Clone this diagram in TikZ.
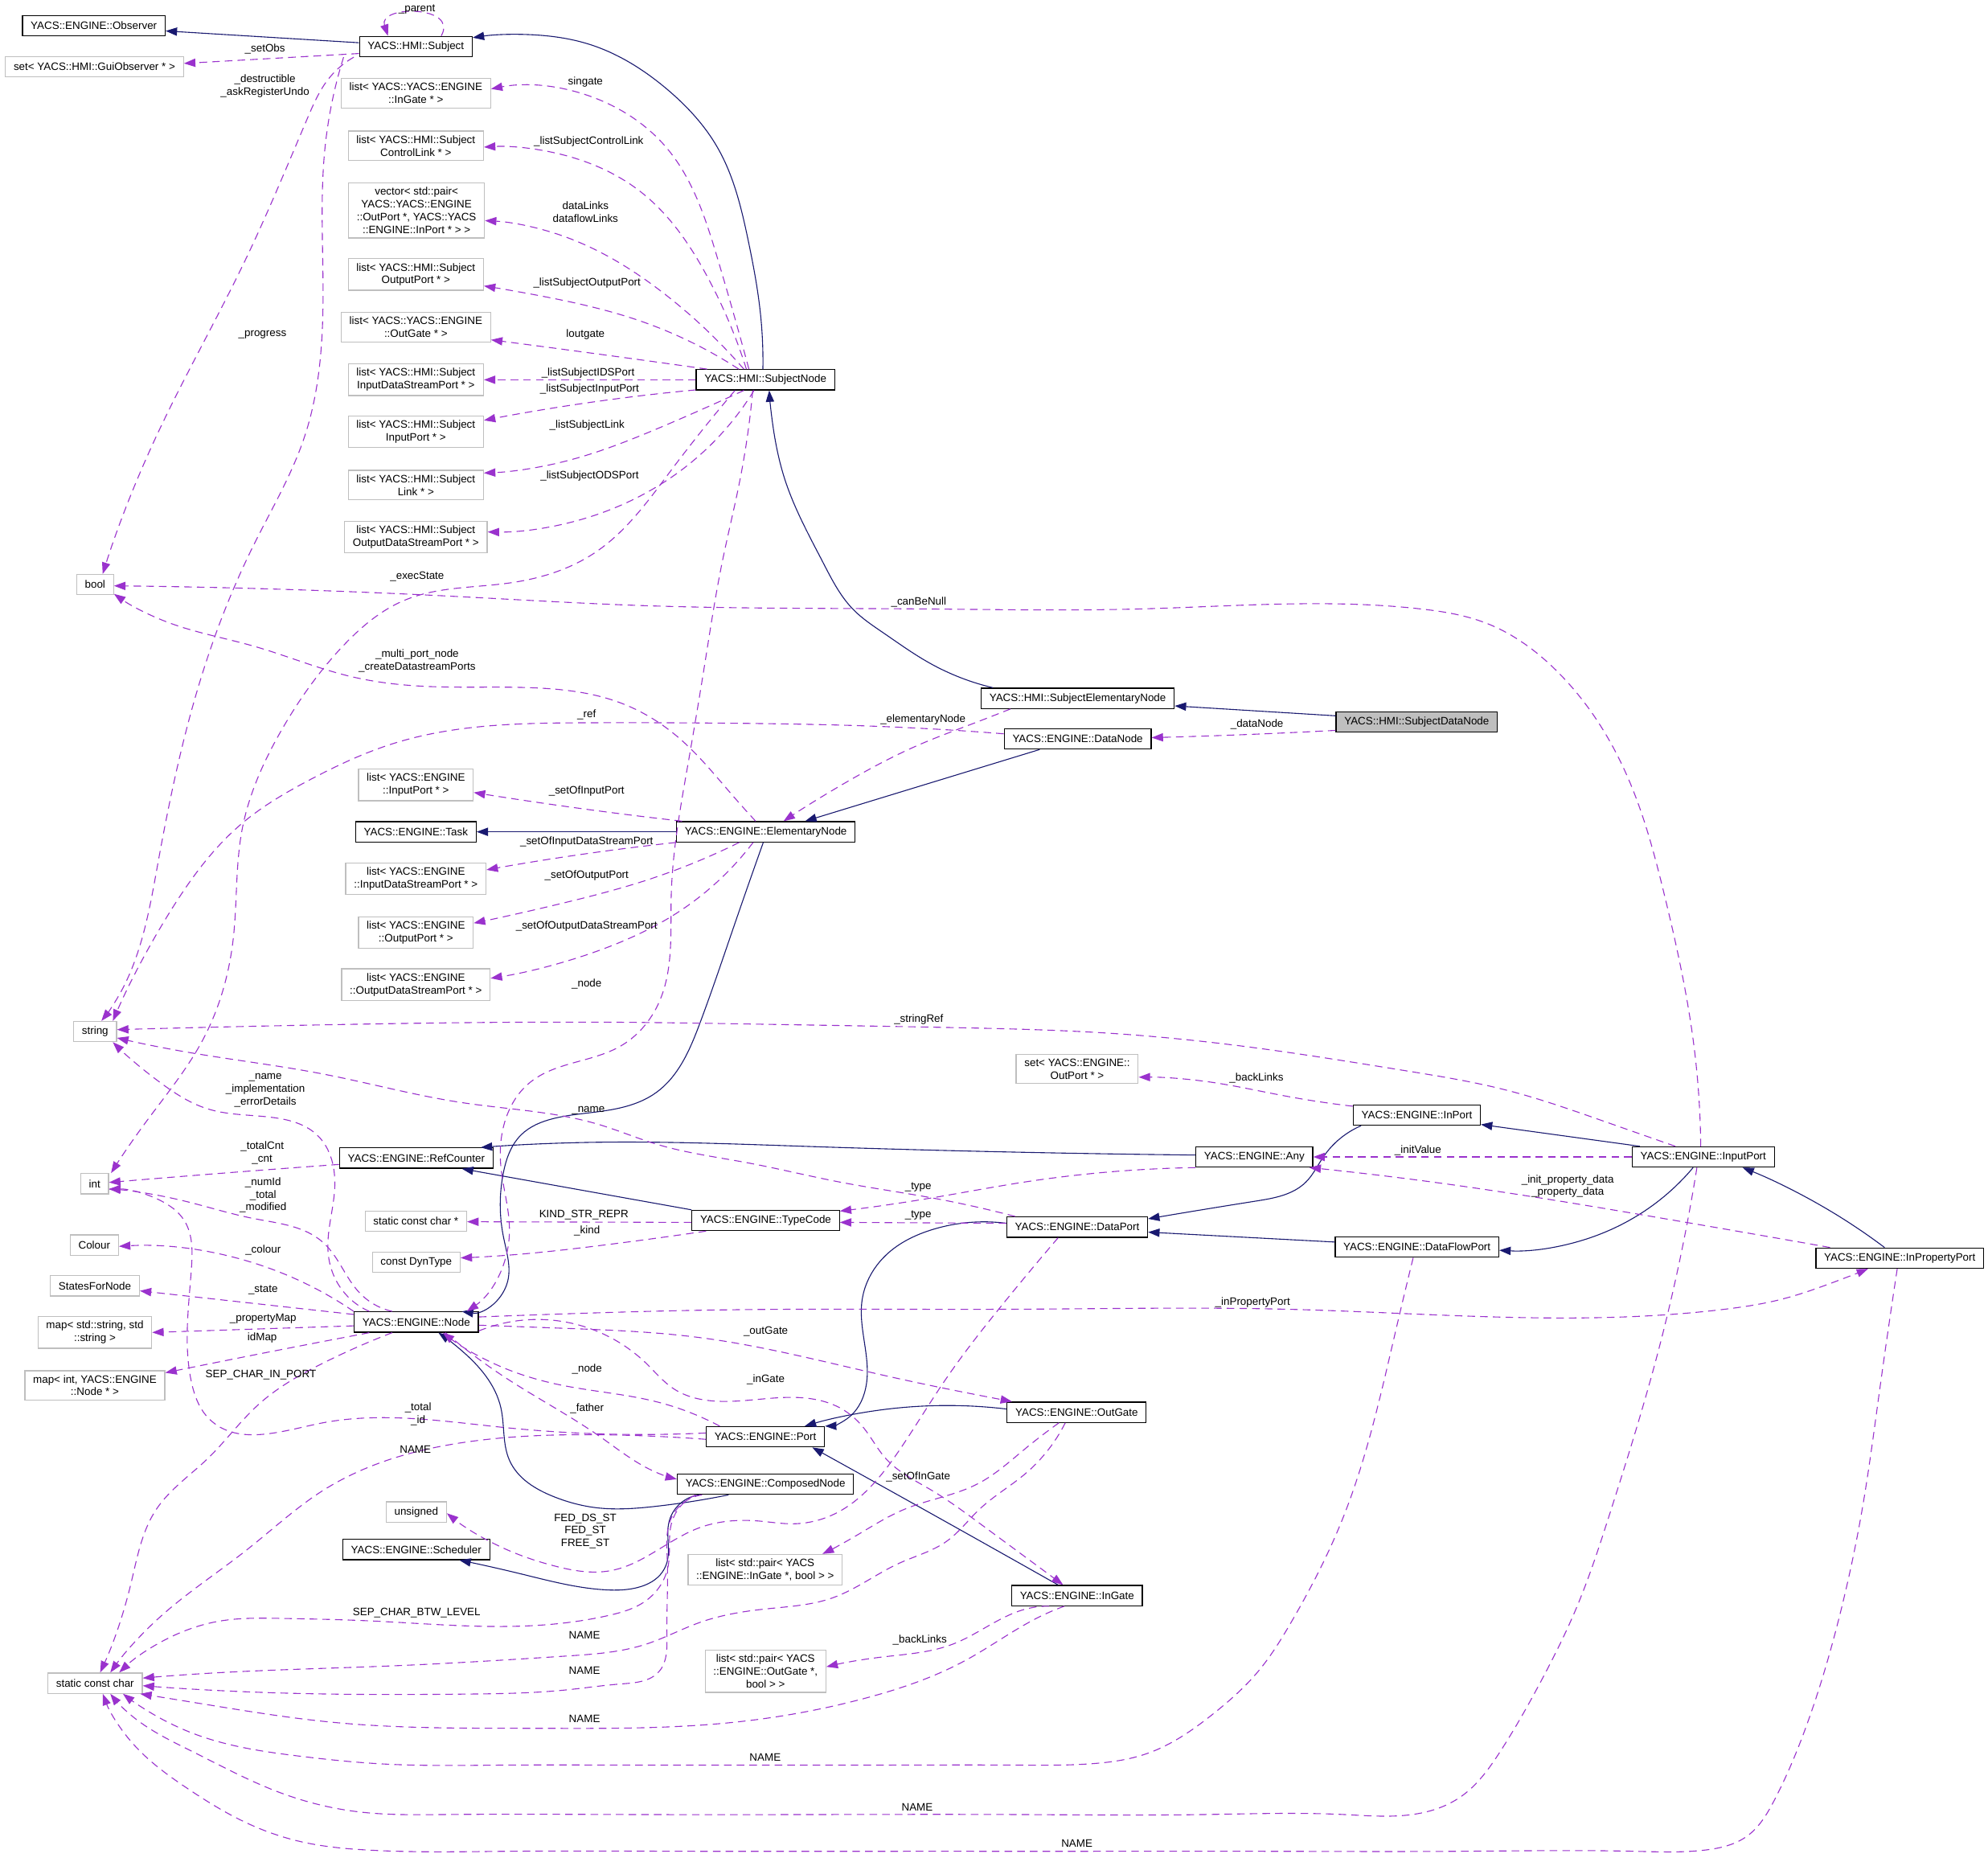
\documentclass[tikz,border=0pt]{standalone}
\usepackage{fontspec}
\setmainfont{Liberation Sans}
\usetikzlibrary{arrows.meta, hobby}

\definecolor{doxnavy}{HTML}{191970}
\definecolor{doxorchid}{HTML}{9A32CD}
\definecolor{doxgrey}{HTML}{BFBFBF}

\begin{document}
\begin{tikzpicture}[
    x=1pt, y=-1pt,
    font=\fontsize{8.5}{10}\selectfont,
    cls/.style={rectangle, draw=black, line width=0.8pt, fill=white, inner xsep=6.5pt, inner ysep=3.5pt, minimum height=16pt, align=center},
    ext/.style={cls, draw=doxgrey},
    cur/.style={cls, fill=doxgrey},
    inh/.style={draw=doxnavy, line width=0.7pt, -{Triangle[length=9pt,width=6.5pt]}},
    dep/.style={draw=doxorchid, line width=0.7pt, dash pattern=on 6pt off 4pt, -{Triangle[length=9pt,width=6.5pt]}},
    crv/.style={use Hobby shortcut},
    lbl/.style={inner sep=0pt, align=center}
]
    \fill[white] (0,0) rectangle (1568,1468);
    \useasboundingbox (0,0) rectangle (1568,1468);

    % HMI side
    \node[cls] (obs) at (74,20.4) {YACS::ENGINE::Observer};
    \node[ext] (guiobs) at (74.5,52.5) {set< YACS::HMI::GuiObserver * >};
    \node[cls] (subj) at (328,36.7) {YACS::HMI::Subject};
    \node[ext] (lIG) at (328,73.6) {list< YACS::YACS::ENGINE\\::InGate * >};
    \node[ext] (lCL) at (328,115) {list< YACS::HMI::Subject\\ControlLink * >};
    \node[ext] (vPair) at (328.5,166) {vector< std::pair<\\YACS::YACS::ENGINE\\::OutPort *, YACS::YACS\\::ENGINE::InPort * > >};
    \node[ext] (lOP) at (328,216.5) {list< YACS::HMI::Subject\\OutputPort * >};
    \node[ext] (lOG) at (328,258) {list< YACS::YACS::ENGINE\\::OutGate * >};
    \node[ext] (lIDS) at (328,299.5) {list< YACS::HMI::Subject\\InputDataStreamPort * >};
    \node[ext] (lIP) at (328,340.5) {list< YACS::HMI::Subject\\InputPort * >};
    \node[ext] (lLnk) at (328,382.5) {list< YACS::HMI::Subject\\Link * >};
    \node[ext] (lODS) at (328,423.5) {list< YACS::HMI::Subject\\OutputDataStreamPort * >};
    \node[cls] (sn) at (603.7,299.5) {YACS::HMI::SubjectNode};
    \node[cls] (sen) at (850,550.7) {YACS::HMI::SubjectElementaryNode};
    \node[cur] (sdn) at (1117.4,569.5) {YACS::HMI::SubjectDataNode};

    % engine side
    \node[cls] (dnode) at (850,582.7) {YACS::ENGINE::DataNode};
    \node[ext] (lEIP) at (328,619) {list< YACS::ENGINE\\::InputPort * >};
    \node[cls] (task) at (328,656) {YACS::ENGINE::Task};
    \node[cls] (enode) at (604,656) {YACS::ENGINE::ElementaryNode};
    \node[ext] (lEIDS) at (328,693) {list< YACS::ENGINE\\::InputDataStreamPort * >};
    \node[ext] (lEOP) at (328,735.5) {list< YACS::ENGINE\\::OutputPort * >};
    \node[ext] (lEODS) at (328,776.5) {list< YACS::ENGINE\\::OutputDataStreamPort * >};
    \node[ext] (setOP) at (849.6,843) {set< YACS::ENGINE::\\OutPort * >};
    \node[cls] (inport) at (1117.5,879.4) {YACS::ENGINE::InPort};
    \node[cls] (refc) at (328.3,913.3) {YACS::ENGINE::RefCounter};
    \node[cls] (any) at (989.3,912.4) {YACS::ENGINE::Any};
    \node[cls] (inputp) at (1343.4,912.4) {YACS::ENGINE::InputPort};
    \node[ext] (sccp) at (328,963) {static const char *};
    \node[cls] (typec) at (603.9,962.5) {YACS::ENGINE::TypeCode};
    \node[cls] (dport) at (849.6,967.7) {YACS::ENGINE::DataPort};
    \node[cls] (dfport) at (1117.6,983.5) {YACS::ENGINE::DataFlowPort};
    \node[cls] (inprop) at (1498.4,992.2) {YACS::ENGINE::InPropertyPort};
    \node[ext] (dyn) at (328.3,995.5) {const DynType};
    \node[cls] (node) at (328.3,1042.6) {YACS::ENGINE::Node};
    \node[cls] (outgate) at (849.2,1113.7) {YACS::ENGINE::OutGate};
    \node[cls] (port) at (603.7,1133.1) {YACS::ENGINE::Port};
    \node[cls] (cnode) at (603.7,1170.5) {YACS::ENGINE::ComposedNode};
    \node[ext] (unsig) at (328.3,1192.4) {unsigned};
    \node[cls] (sched) at (328.3,1222) {YACS::ENGINE::Scheduler};
    \node[ext] (lpIG) at (603.5,1238) {list< std::pair< YACS\\::ENGINE::InGate *, bool > >};
    \node[cls] (ingate) at (849.5,1258.3) {YACS::ENGINE::InGate};
    \node[ext] (lpOG) at (603.8,1318) {list< std::pair< YACS\\::ENGINE::OutGate *,\\bool > >};

    % plain types
    \node[ext] (bool) at (75,461) {bool};
    \node[ext] (str) at (75,813.5) {string};
    \node[ext] (int) at (74.6,933.5) {int};
    \node[ext] (colour) at (74.4,981.9) {Colour};
    \node[ext] (states) at (74.8,1014) {StatesForNode};
    \node[ext] (mapSS) at (74.8,1050.8) {map< std::string, std\\::string >};
    \node[ext] (mapIN) at (74.8,1092.6) {map< int, YACS::ENGINE\\::Node * >};
    \node[ext] (scc) at (75,1327.4) {static const char};

    % inheritance
    \draw[inh] ([yshift=3pt]subj.west) -- ([yshift=-4pt]obs.east);
    \draw[inh, crv] ([xshift=-2pt]sn.north) .. (599.8,247.5) .. (590,189) .. (566,116.5) .. (525.7,70) .. (465,35) .. (424.6,27.7) .. ([yshift=7pt]subj.east);
    \draw[inh, crv] ([xshift=-67pt]sen.north) .. (733,522.8) .. (696.6,499) .. (673,480.7) .. (649.3,443.9) .. (619.2,378.6) .. (609.5,334.9) .. ([xshift=3pt]sn.south);
    \draw[inh] ([yshift=5pt]sdn.west) -- ([yshift=-6pt]sen.east);
    \draw[inh] ([xshift=-30pt]dnode.south) -- ([xshift=31pt]enode.north);
    \draw[inh] (enode.west) -- (task.east);
    \draw[inh, crv] ([xshift=-2pt]enode.south) .. (578,733) .. (552,807) .. (517,862) .. (477,876) .. (437,882) .. (411,895) .. (397,925) .. (397,975) .. (400,1012) .. ([xshift=36pt]node.north);
    \draw[inh, crv] ([yshift=1.5pt]any.west) .. (636.8,904.1) .. (466,900.9) .. ([xshift=-10pt]refc.north east);
    \draw[inh] (typec.north west) -- ([xshift=36pt]refc.south);
    \draw[inh, crv] ([xshift=-44pt]inport.south) .. (1044,912) .. (1030,932.2) .. (990.6,947.2) .. ([yshift=6.5pt]dport.east);
    \draw[inh] ([yshift=4pt]dfport.west) -- ([yshift=-4pt]dport.east);
    \draw[inh] ([xshift=-50pt]inputp.north) -- ([yshift=1pt]inport.south east);
    \draw[inh, crv] ([xshift=-8pt]inputp.south) .. (1297.5,954.8) .. (1258,974.8) .. ([yshift=-2.5pt]dfport.east);
    \draw[inh, crv] ([xshift=-12pt]inprop.north) .. (1439,952.3) .. ([xshift=31pt]inputp.south);
    \draw[inh, crv] ([yshift=3pt]dport.west) .. (735,969.8) .. (698.7,989.9) .. (680,1025) .. (684,1085) .. (669.6,1117.7) .. (port.north east);
    \draw[inh, crv] ([yshift=2.5pt]outgate.west) .. (698.7,1111.4) .. ([xshift=31pt]port.north);
    \draw[inh, crv] ([xshift=-15pt]ingate.north) .. (777,1217.5) .. ([xshift=37pt]port.south);
    \draw[inh, crv] ([xshift=-29pt]cnode.south) .. (516.7,1188) .. (470,1189) .. (437,1180.4) .. (402,1152) .. (395,1110) .. (364,1065) .. ([xshift=17.5pt]node.south);
    \draw[inh, crv] ([xshift=-52pt]cnode.south) .. (527.6,1200.5) .. (525.3,1234.4) .. (483.6,1254) .. (410,1241) .. ([xshift=34pt]sched.south);

    % Subject members
    \draw[dep] ([yshift=-5.5pt]subj.west) -- ([yshift=2.5pt]guiobs.east);
    \draw[dep] ([xshift=20pt]subj.north) .. controls (362,4) and (298,4) .. ([xshift=-22pt]subj.north);
    \draw[dep, crv] ([xshift=-49pt]subj.south) .. (258.8,62.6) .. (242.6,93) .. (194,204) .. (121,349) .. ([xshift=6pt]bool.north);
    \draw[dep, crv] ([xshift=-57pt]subj.south) .. (256,120) .. (254.8,233) .. (240,345) .. (200,430) .. (160,530) .. (124.6,680.5) .. (93.4,785.7) .. ([xshift=5pt]str.north);

    % SubjectNode members
    \draw[dep, crv] ([xshift=-13pt]sn.north) .. (566,204) .. (525.7,116.5) .. (485,84.4) .. ([yshift=3.5pt]lIG.east);
    \draw[dep, crv] ([xshift=-15pt]sn.north) .. (558,218.4) .. (505.5,151.4) .. (444.8,122.3) .. ([yshift=-1pt]lCL.east);
    \draw[dep, crv] ([xshift=-17pt]sn.north) .. (525.7,233) .. (444.8,186.4) .. ([yshift=-8pt]vPair.east);
    \draw[dep, crv] ([xshift=-21pt]sn.north) .. (505.5,253.3) .. (424.6,233) .. ([yshift=-9pt]lOP.east);
    \draw[dep, crv] ([xshift=-46pt]sn.north) .. (485,281) .. ([yshift=-10pt]lOG.east);
    \draw[dep] (sn.west) -- (lIDS.east);
    \draw[dep, crv] ([yshift=-8pt]sn.west) .. (465,317.4) .. ([yshift=9pt]lIP.east);
    \draw[dep, crv] ([xshift=-17pt]sn.south) .. (525.7,335) .. (444.8,364) .. ([yshift=9.5pt]lLnk.east);
    \draw[dep, crv] ([xshift=-9pt]sn.south) .. (546,364) .. (465,407.7) .. ([yshift=4pt]lODS.east);
    \draw[dep, crv] ([xshift=-24pt]sn.south) .. (530,370) .. (469,436) .. (400,460) .. (320,473) .. (270,510) .. (222.5,575) .. (191,654) .. (184,740) .. (160,820) .. (115,885) .. ([xshift=13pt]int.north);
    \draw[dep, crv] ([xshift=-10pt]sn.south) .. (583.6,378.6) .. (569.5,443.9) .. (556,522.8) .. (542.8,601.6) .. (529.4,706.8) .. (520,790) .. (489.4,825) .. (417.7,853.9) .. (397.3,887.7) .. (395,919.4) .. (401.8,972.3) .. ([xshift=40pt]node.north);

    % node members
    \draw[dep, crv] ([xshift=-53pt]sen.south) .. (762,572.7) .. (725.7,587) .. (671.1,614.8) .. ([xshift=14pt]enode.north);
    \draw[dep, crv] ([yshift=-6.5pt]sdn.west) .. (969.6,579.8) .. ([yshift=1pt]dnode.east);
    \draw[dep, crv] ([yshift=4pt]dnode.west) .. (689.3,572.7) .. (598.3,570.6) .. (462.7,570) .. (311.4,586) .. (244.7,614.8) .. (191.3,649) .. (133.5,720) .. ([xshift=14pt]str.north);
    \draw[dep, crv] ([xshift=-8pt]enode.north) .. (578.4,628) .. (533.9,580.6) .. (489.4,554.3) .. (422.6,542.5) .. (333.7,541.2) .. (275.8,533.3) .. (200.2,509.6) .. (133.5,491.2) .. ([yshift=1pt]bool.south east);
    \draw[dep, crv] ([xshift=-66pt]enode.north) .. (444.9,635.8) .. ([yshift=-6pt]lEIP.east);
    \draw[dep, crv] (enode.south west) .. (467,672.6) .. ([yshift=7pt]lEIDS.east);
    \draw[dep, crv] ([xshift=-21pt]enode.south) .. (511.6,693.6) .. (444.9,712) .. ([yshift=7.5pt]lEOP.east);
    \draw[dep, crv] ([xshift=-10pt]enode.south) .. (533.9,720) .. (467,751.5) .. ([yshift=5pt]lEODS.east);

    % port members
    \draw[dep, crv] ([xshift=-2pt]inputp.north) .. (1336,824.4) .. (1313,706.8) .. (1285.7,617.4) .. (1226.7,528) .. (1171.6,491.2) .. (1120.4,480.2) .. (900,480.2) .. (725.7,480.2) .. (507.3,477.6) .. (356,470.2) .. ([yshift=-1pt]bool.east);
    \draw[dep, crv] ([xshift=-22pt]inputp.north) .. (1266,884.6) .. (1187.3,859.5) .. (1108.6,844.4) .. (980.5,825.1) .. (871.3,814.6) .. (762,810.6) .. (616.5,808) .. (489.4,806.2) .. (266.9,808) .. ([yshift=1.5pt]str.east);
    \draw[dep, crv] ([xshift=-49pt]dport.north) .. (735.1,944.7) .. (662.3,932.2) .. (589.5,917) .. (516.7,902) .. (473,887) .. (364,869.5) .. (254.8,847) .. (145.6,829.4) .. ([yshift=-5pt]str.east);
    \draw[dep, crv] ([xshift=-37pt]node.north) .. (272,1020) .. (259,990) .. (264,937) .. (250,895) .. (220,882) .. (163.8,874.5) .. (127.4,854.5) .. ([xshift=14pt]str.south);
    \draw[dep, crv] ([xshift=-19pt]node.north) .. (284,1020) .. (254.8,979.8) .. (200.2,961) .. (145.6,947.2) .. ([yshift=-4pt]int.east);
    \draw[dep, crv] ([yshift=-5pt]refc.west) .. (182,924.7) .. ([yshift=1pt]int.east);
    \draw[dep, crv] ([yshift=3pt]port.west) .. (400,1126) .. (250,1123) .. (165,1119) .. (151,1090) .. (151,1000) .. (145,962) .. (127,947) .. ([yshift=-4.5pt]int.east);
    \draw[dep, crv] (node.north west) .. (218.4,1002.4) .. ([yshift=-1pt]colour.east);
    \draw[dep] ([yshift=6pt]node.west) -- ([yshift=-4pt]states.east);
    \draw[dep] ([yshift=-3pt]node.west) -- (mapSS.east);
    \draw[dep, crv] ([xshift=-37pt]node.south) .. (218.4,1065) .. ([yshift=10pt]mapIN.east);
    \draw[dep, crv] ([xshift=-19pt]node.south) .. (254.8,1075) .. (203.8,1107.7) .. (163.8,1150.3) .. (123.5,1190) .. (103,1250) .. ([xshift=4pt]scc.north);
    \draw[dep, crv] ([yshift=-2pt]port.west) .. (473,1131.5) .. (364,1137.8) .. (309.4,1150.3) .. (254.8,1175.4) .. (195,1222) .. (126.2,1275.2) .. ([xshift=12pt]scc.north);
    \draw[dep, crv] ([yshift=4pt]node.east) .. (443.9,1036.2) .. (570.8,1033) .. (800,1032.5) .. (1014.6,1032.5) .. (1360.4,1032.5) .. (1403.7,1025) .. (1443,1012.4) .. ([xshift=-25pt]inprop.south);
    \draw[dep, crv] ([yshift=-2.5pt]node.east) .. (443.9,1047.5) .. (553,1055) .. (698.7,1085) .. (771.5,1100.2) .. ([xshift=-51pt]outgate.north);
    \draw[dep, crv] ([yshift=-7pt]node.east) .. (509.6,1075.1) .. (531.3,1095.2) .. (571.3,1105.2) .. (636.8,1102.7) .. (662.3,1110.2) .. (680.5,1125.2) .. (698.7,1150.3) .. (735,1175.4) .. (771.5,1200.5) .. ([xshift=-11pt]ingate.north);
    \draw[dep, crv] ([xshift=-36pt]port.north) .. (516.7,1105.2) .. (443.9,1092.6) .. (400.4,1080) .. ([xshift=21pt]node.south);
    \draw[dep, crv] ([xshift=23pt]node.south) .. (400.4,1087.6) .. (473,1132.8) .. (515,1160) .. ([yshift=4pt]cnode.west);
    \draw[dep] ([yshift=-1.5pt]typec.west) -- ([yshift=-0.5pt]sccp.east);
    \draw[dep, crv] ([xshift=-47pt]typec.south) .. (473,982.3) .. (400.4,989.9) .. ([yshift=3.5pt]dyn.east);
    \draw[dep, crv] (any.south west) .. (808,932.2) .. (735,944.7) .. ([yshift=-1pt]typec.north east);
    \draw[dep] ([yshift=3pt]dport.west) -- ([yshift=-1.5pt]typec.east);
    \draw[dep, crv] ([yshift=7pt]inport.west) .. (1014.6,864.5) .. (953.5,853.2) .. ([yshift=-6.5pt]setOP.east);
    \draw[dep] (inputp.west) -- (any.east);
    \draw[dep, crv] ([xshift=-55pt]inprop.north) .. (1305.4,959.8) .. (1148,934.7) .. (1069.3,924.7) .. ([xshift=-3pt]any.south east);

    % gates and NAME constants
    \draw[dep, crv] ([xshift=-14pt]outgate.south) .. (808,1143) .. (771.5,1170) .. (714,1190) .. (672,1213) .. ([xshift=-16pt]lpIG.north east);
    \draw[dep, crv] ([xshift=-9pt]outgate.south) .. (808,1162.8) .. (772.8,1190) .. (746.5,1215.6) .. (709.7,1232.6) .. (657,1260) .. (604.6,1268.8) .. (552,1279.5) .. (510,1296.5) .. (446.8,1306) .. (315.4,1313.5) .. (157.7,1320) .. ([yshift=4pt]scc.east);
    \draw[dep, crv] ([xshift=-55pt]cnode.south) .. (530,1200) .. (527,1235) .. (510,1262) .. (480,1274) .. (420.6,1282) .. (294.4,1278.4) .. (220.8,1276.3) .. (173.5,1278.4) .. (136.7,1290) .. ([xshift=19pt]scc.north);
    \draw[dep, crv] ([xshift=-50pt]cnode.south) .. (530,1196) .. (526.3,1230) .. (526,1290) .. (520,1318) .. (490,1328) .. (446.8,1332.7) .. (368,1336) .. (210.3,1334.8) .. ([yshift=-2pt]scc.east);
    \draw[dep, crv] ([xshift=-15pt]dport.south) .. (789.7,1030) .. (746,1087.6) .. (713.3,1137.8) .. (689,1170) .. (662,1192) .. (626,1201.7) .. (598.2,1199.5) .. (551.7,1204.8) .. (482,1238.6) .. (436.3,1234.7) .. (399.5,1222) .. ([yshift=-1pt]unsig.east);
    \draw[dep, crv] ([xshift=-22pt]ingate.south) .. (809.6,1268.8) .. (751.8,1296.5) .. (693.9,1307) .. ([yshift=3.5pt]lpOG.east);
    \draw[dep, crv] ([xshift=-10pt]ingate.south) .. (820,1275) .. (762.3,1309) .. (683.4,1339) .. (578.3,1358.3) .. (420.6,1363) .. (262.9,1358.3) .. (157.7,1343.4) .. ([xshift=-2pt]scc.south east);
    \draw[dep, crv] ([xshift=-3pt]dfport.south) .. (1100.7,1050) .. (1059.5,1196.4) .. (1018.3,1279.5) .. (992.6,1317.8) .. (956.5,1351.9) .. (905,1382.8) .. (860,1391) .. (800,1392) .. (700,1392) .. (600,1392) .. (500,1392) .. (400,1392) .. (300,1391) .. (236.6,1385) .. (157.7,1369) .. (121,1352) .. ([xshift=22pt]scc.south);
    \draw[dep, crv] ([xshift=-5pt]inputp.south) .. (1305.4,1075) .. (1269.5,1194.3) .. (1244.8,1264.6) .. (1214,1328.5) .. (1183,1381.7) .. (1152.1,1417) .. (1120,1430) .. (1060,1431) .. (950,1431) .. (800,1431) .. (650,1431) .. (500,1431) .. (350,1431) .. (283.9,1429) .. (220.8,1413.7) .. (152.5,1381.7) .. (105,1354) .. ([xshift=12pt]scc.south);
    \draw[dep, crv] ([xshift=-2pt]inprop.south) .. (1482,1100) .. (1468.8,1190) .. (1450.7,1275.2) .. (1425,1360.4) .. (1399.3,1420) .. (1378,1448) .. (1345,1459) .. (1290,1460) .. (1150,1460) .. (1000,1460) .. (850,1460) .. (700,1460) .. (550,1460) .. (400,1460) .. (290,1459) .. (240,1453) .. (199.8,1440) .. (147.2,1410) .. (105,1375.3) .. ([xshift=6pt]scc.south);

    % edge labels
    \node[lbl] (lb-parent) at (328.8,7.3) {\_parent};
    \node[lbl] (lb-setobs) at (209,38.4) {\_setObs};
    \node[lbl] (lb-destr) at (209,68) {\_destructible\\\_askRegisterUndo};
    \node[lbl] (lb-progress) at (207,264) {\_progress};
    \node[lbl] (lb-singate) at (461.8,65) {singate};
    \node[lbl] (lb-ctrl) at (464.3,111.8) {\_listSubjectControlLink};
    \node[lbl] (lb-dlinks) at (461.8,167) {dataLinks\\dataflowLinks};
    \node[lbl] (lb-outp) at (463,223) {\_listSubjectOutputPort};
    \node[lbl] (lb-loutgate) at (461.8,264) {loutgate};
    \node[lbl] (lb-ids) at (463.8,294) {\_listSubjectIDSPort};
    \node[lbl] (lb-inp) at (465,306.6) {\_listSubjectInputPort};
    \node[lbl] (lb-link) at (463,335.2) {\_listSubjectLink};
    \node[lbl] (lb-ods) at (465,375.6) {\_listSubjectODSPort};
    \node[lbl] (lb-exec) at (329,455) {\_execState};
    \node[lbl] (lb-canbenull) at (724.6,474.7) {\_canBeNull};
    \node[lbl] (lb-multi) at (329,521.2) {\_multi\_port\_node\\\_createDatastreamPorts};
    \node[lbl] (lb-ref) at (462.7,563.5) {\_ref};
    \node[lbl] (lb-elem) at (728,567.7) {\_elementaryNode};
    \node[lbl] (lb-datanode) at (991.4,571) {\_dataNode};
    \node[lbl] (lb-setip) at (462.7,623.7) {\_setOfInputPort};
    \node[lbl] (lb-setids) at (462.7,663.7) {\_setOfInputDataStreamPort};
    \node[lbl] (lb-setop) at (462.7,690.2) {\_setOfOutputPort};
    \node[lbl] (lb-setods) at (462.7,730.2) {\_setOfOutputDataStreamPort};
    \node[lbl] (lb-snnode) at (462.7,776) {\_node};
    \node[lbl] (lb-stringref) at (724.6,803.8) {\_stringRef};
    \node[lbl] (lb-backin) at (991,850) {\_backLinks};
    \node[lbl] (lb-nname) at (209.3,859.8) {\_name\\\_implementation\\\_errorDetails};
    \node[lbl] (lb-dpname) at (464,875.5) {\_name};
    \node[lbl] (lb-totalcnt) at (206.8,909) {\_totalCnt\\\_cnt};
    \node[lbl] (lb-initval) at (1118.4,907.1) {\_initValue};
    \node[lbl] (lb-type1) at (724.2,936.5) {\_type};
    \node[lbl] (lb-initprop) at (1236.5,935.5) {\_init\_property\_data\\\_property\_data};
    \node[lbl] (lb-numid) at (207.5,942.5) {\_numId\\\_total\\\_modified};
    \node[lbl] (lb-kindstr) at (460.5,958) {KIND\_STR\_REPR};
    \node[lbl] (lb-type2) at (724.2,958.5) {\_type};
    \node[lbl] (lb-kind) at (463,971) {\_kind};
    \node[lbl] (lb-colour) at (207.5,985.9) {\_colour};
    \node[lbl] (lb-state) at (207.5,1017.4) {\_state};
    \node[lbl] (lb-inprop) at (988,1027) {\_inPropertyPort};
    \node[lbl] (lb-propmap) at (207.5,1040.3) {\_propertyMap};
    \node[lbl] (lb-outgate) at (604,1050.3) {\_outGate};
    \node[lbl] (lb-idmap) at (206.8,1055.3) {idMap};
    \node[lbl] (lb-portnode) at (463,1079.6) {\_node};
    \node[lbl] (lb-sepin) at (205.7,1084.4) {SEP\_CHAR\_IN\_PORT};
    \node[lbl] (lb-ingate) at (604,1088.1) {\_inGate};
    \node[lbl] (lb-father) at (463,1111) {\_father};
    \node[lbl] (lb-totalid) at (329.8,1115.4) {\_total\\\_id};
    \node[lbl] (lb-portname) at (327.6,1142.8) {NAME};
    \node[lbl] (lb-setig) at (724.2,1164.4) {\_setOfInGate};
    \node[lbl] (lb-fed) at (461.6,1207.5) {FED\_DS\_ST\\FED\_ST\\FREE\_ST};
    \node[lbl] (lb-sepbtw) at (328.6,1272) {SEP\_CHAR\_BTW\_LEVEL};
    \node[lbl] (lb-ogname) at (461,1289.3) {NAME};
    \node[lbl] (lb-backout) at (725.5,1293.3) {\_backLinks};
    \node[lbl] (lb-cnname) at (461,1317.4) {NAME};
    \node[lbl] (lb-igname) at (461,1355.7) {NAME};
    \node[lbl] (lb-dfname) at (603.5,1386.1) {NAME};
    \node[lbl] (lb-ipname) at (723.4,1425.4) {NAME};
    \node[lbl] (lb-ppname) at (849.4,1454) {NAME};
\end{tikzpicture}
\end{document}
